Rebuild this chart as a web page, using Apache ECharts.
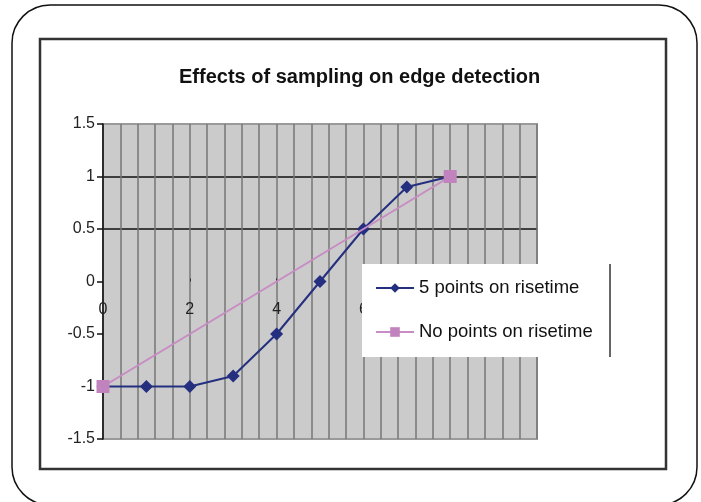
<!DOCTYPE html>
<html>
<head>
<meta charset="utf-8">
<script src="https://cdn.jsdelivr.net/npm/echarts@6/dist/echarts.min.js"></script>
<style>
html,body{margin:0;padding:0;background:#fff;}
#chart{width:701px;height:502px;}
</style>
</head>
<body>
<div id="chart"></div>
<script>
const titleText = 'Effects of sampling on edge detection';
const seriesNames = ['5 points on risetime', 'No points on risetime'];
const xFivePoints = [0, 1, 2, 3, 4, 5, 6, 7, 8];
const yFivePoints = [-1, -1, -1, -0.9, -0.5, 0, 0.5, 0.9, 1];
const xNoPoints = [0, 8];
const yNoPoints = [-1, 1];
const xAxisMin = 0, xAxisMax = 10, xAxisStep = 2;
const yAxisMin = -1.5, yAxisMax = 1.5, yAxisStep = 0.5;
const yGridValues = [0.5, 1];
const xAxisCrossesAt = 0;

const font = '"Liberation Sans", Arial, sans-serif';
const chart = echarts.init(document.getElementById('chart'), null, {renderer: 'canvas'});

const yTickCount = Math.round((yAxisMax - yAxisMin) / yAxisStep) + 1;
const yLineColors = [];
for (let i = 0; i < yTickCount; i++) {
  const v = +(yAxisMin + i * yAxisStep).toFixed(3);
  yLineColors.push(yGridValues.indexOf(v) >= 0 ? '#111' : 'rgba(0,0,0,0)');
}

const gridBox = {left: 103, right: 164, top: 124, bottom: 63};

chart.setOption({
  backgroundColor: '#fff',
  animation: false,
  textStyle: {fontFamily: font},
  title: {
    text: titleText,
    left: 174,
    top: 62,
    textStyle: {fontFamily: font, fontSize: 20, fontWeight: 'bold', color: '#111'}
  },
  graphic: [
    {type: 'rect', shape: {x: 12, y: 5, width: 685, height: 500, r: 38}, style: {fill: 'none', stroke: '#111', lineWidth: 1.5}, z: 0, silent: true},
    {type: 'rect', shape: {x: 40, y: 39, width: 626, height: 430}, style: {fill: 'none', stroke: '#333', lineWidth: 2.5}, z: 0, silent: true},
    {type: 'line', shape: {x1: 610, y1: 264, x2: 610, y2: 357}, style: {stroke: '#333', lineWidth: 1.5}, z: 10, silent: true}
  ],
  legend: {
    orient: 'vertical',
    left: 362,
    top: 264,
    padding: [14, 16, 15, 13],
    backgroundColor: '#fff',
    borderWidth: 0,
    itemWidth: 38,
    itemHeight: 12,
    itemGap: 24,
    textStyle: {fontFamily: font, fontSize: 18.5, color: '#111', lineHeight: 20},
    data: seriesNames
  },
  grid: Object.assign({
    show: true, backgroundColor: '#cbcbcb', borderColor: '#9a9a9a', borderWidth: 2,
    containLabel: false
  }, gridBox),
  xAxis: {
    type: 'value',
    position: 'bottom',
    offset: 0,
    min: xAxisMin, max: xAxisMax, interval: xAxisStep,
    axisLine: {show: true, onZero: false, lineStyle: {color: 'rgba(0,0,0,0)'}},
    axisTick: {show: true, length: 3, inside: true, lineStyle: {color: '#333'}},
    axisLabel: {margin: 20, fontSize: 16, color: '#222', fontFamily: font},
    splitLine: {show: true, lineStyle: {color: '#777', width: 1.5}},
    minorTick: {show: false, splitNumber: 5},
    minorSplitLine: {show: true, lineStyle: {color: '#777', width: 1.5}}
  },
  yAxis: {
    type: 'value',
    min: yAxisMin, max: yAxisMax, interval: yAxisStep,
    axisLine: {show: true, onZero: false, lineStyle: {color: '#111', width: 1.5}},
    axisTick: {show: true, length: 6, lineStyle: {color: '#111', width: 1.5}},
    axisLabel: {margin: 8, fontSize: 16, color: '#222', fontFamily: font},
    splitLine: {show: true, lineStyle: {color: yLineColors, width: 1.5}}
  },
  series: [
    {
      name: seriesNames[0],
      type: 'line',
      data: xFivePoints.map((x, i) => [x, yFivePoints[i]]),
      symbol: 'diamond',
      symbolSize: 13,
      lineStyle: {color: '#24307f', width: 2},
      itemStyle: {color: '#24307f'},
      z: 2
    },
    {
      name: seriesNames[1],
      type: 'line',
      data: xNoPoints.map((x, i) => [x, yNoPoints[i]]),
      symbol: 'rect',
      symbolSize: 13,
      lineStyle: {color: '#c88cc4', width: 2},
      itemStyle: {color: '#c083bd'},
      z: 3
    }
  ]
});

// Move the x axis to where the y scale puts y = 0 (Excel "crosses at 0").
const yZero = chart.convertToPixel({yAxisIndex: 0}, xAxisCrossesAt);
const gridBottomPx = 502 - gridBox.bottom;
chart.setOption({xAxis: {offset: -(gridBottomPx - yZero)}});
</script>
</body>
</html>
